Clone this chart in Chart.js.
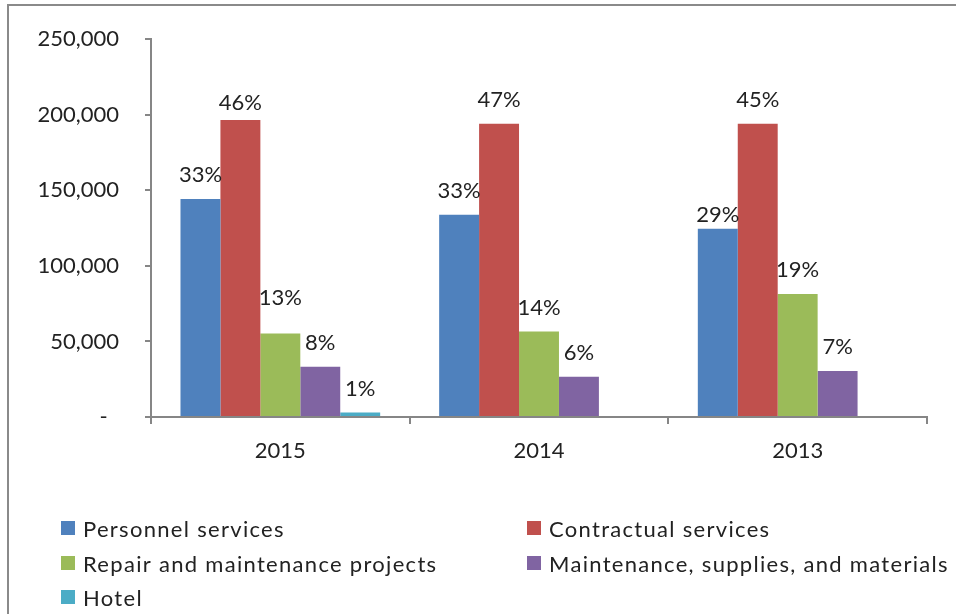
<!DOCTYPE html>
<html>
<head>
<meta charset="utf-8">
<script src="https://cdn.jsdelivr.net/npm/chart.js@4.4.1/dist/chart.umd.min.js"></script>
<style>
  html, body { margin: 0; padding: 0; background: #fff; overflow: hidden; }
  #wrap { position: relative; width: 956px; height: 614px; }
  #frame { position: absolute; left: 7px; top: 4px; width: 1000px; height: 1000px; border: 2px solid #8a8a8a; box-sizing: border-box; pointer-events: none; }
  canvas { position: absolute; left: 0; top: 0; }
</style>
</head>
<body>
<div id="wrap">
  <canvas id="c" width="956" height="614"></canvas>
  <div id="frame"></div>
</div>
<script>
// ---- data ----
const years = ['2015', '2014', '2013'];
const personnel   = [144200, 133800, 124600];
const contractual = [196600, 194000, 194000];
const repair      = [55200, 56500, 81400];
const supplies    = [33200, 26600, 30400];
const hotel       = [2900, null, null];

const personnelPct   = ['33%', '33%', '29%'];
const contractualPct = ['46%', '47%', '45%'];
const repairPct      = ['13%', '14%', '19%'];
const suppliesPct    = ['8%', '6%', '7%'];
const hotelPct       = ['1%', null, null];

const yTicks = [0, 50000, 100000, 150000, 200000, 250000];

const FONT = 'Lato, "Open Sans", sans-serif';
const TEXT = '#222222';
const AXIS = '#868686';

const pctLabels = [personnelPct, contractualPct, repairPct, suppliesPct, hotelPct];

const labelPlugin = {
  id: 'pctLabels',
  afterDatasetsDraw(chart, args, opts) {
    const ctx = chart.ctx;
    ctx.save();
    ctx.font = '22px ' + FONT;
    ctx.fillStyle = TEXT;
    ctx.textAlign = 'center';
    ctx.textBaseline = 'alphabetic';
    chart.data.datasets.forEach((ds, di) => {
      const meta = chart.getDatasetMeta(di);
      meta.data.forEach((bar, i) => {
        const txt = pctLabels[di][i];
        if (ds.data[i] == null || !txt) return;
        const key = di + '-' + i;
        const gap = (opts.gaps && opts.gaps[key] != null) ? opts.gaps[key] : opts.gap;
        ctx.fillText(txt, bar.x, bar.y - gap);
      });
    });
    ctx.restore();
  }
};

const legendPlugin = {
  id: 'gridLegend',
  afterDraw(chart, args, opts) {
    const ctx = chart.ctx;
    ctx.save();
    ctx.font = '22px ' + FONT;
    ctx.textBaseline = 'alphabetic';
    ctx.textAlign = 'left';
    try { ctx.letterSpacing = '1.3px'; } catch (e) {}
    chart.data.datasets.forEach((ds, i) => {
      const col = i % 2, row = Math.floor(i / 2);
      const x = opts.cols[col], base = opts.rows[row];
      ctx.fillStyle = ds.backgroundColor;
      ctx.fillRect(x, base - 16, 14, 14);
      ctx.fillStyle = TEXT;
      ctx.fillText(ds.label, x + 22, base);
    });
    ctx.restore();
  }
};

const mk = (label, data, color) => ({
  label, data, backgroundColor: color, borderWidth: 0,
  categoryPercentage: 0.772, barPercentage: 1.0
});

new Chart(document.getElementById('c'), {
  type: 'bar',
  data: {
    labels: years,
    datasets: [
      mk('Personnel services', personnel, '#4F81BD'),
      mk('Contractual services', contractual, '#C0504D'),
      mk('Repair and maintenance projects', repair, '#9BBB59'),
      mk('Maintenance, supplies, and materials', supplies, '#8064A2'),
      mk('Hotel', hotel, '#4BACC6')
    ]
  },
  options: {
    responsive: false,
    animation: false,
    layout: { padding: { left: 0, top: 35, right: 29, bottom: 137 } },
    plugins: {
      legend: { display: false },
      tooltip: { enabled: false },
      pctLabels: { gap: 17, gaps: { '1-0': 10, '2-0': 29, '0-2': 7 } },
      gridLegend: { cols: [61, 527], rows: [537, 572, 606] }
    },
    scales: {
      x: {
        grid: { display: true, drawOnChartArea: false, color: AXIS, lineWidth: 2, tickLength: 7, offset: true },
        border: { display: true, color: AXIS, width: 2 },
        ticks: { color: TEXT, font: { family: FONT, size: 22 }, padding: 14 },
        afterFit(scale) { scale.height = 60; }
      },
      y: {
        min: 0, max: 250000,
        afterBuildTicks(scale) { scale.ticks = yTicks.map(v => ({ value: v })); },
        grid: { display: true, drawOnChartArea: false, color: AXIS, lineWidth: 2, tickLength: 6 },
        border: { display: true, color: AXIS, width: 2 },
        ticks: {
          color: TEXT, font: { family: FONT, size: 22 }, padding: 26,
          callback: (v) => v === 0 ? '-  ' : v.toLocaleString('en-US')
        },
        afterFit(scale) { scale.width = 151; }
      }
    }
  },
  plugins: [labelPlugin, legendPlugin]
});
</script>
</body>
</html>
